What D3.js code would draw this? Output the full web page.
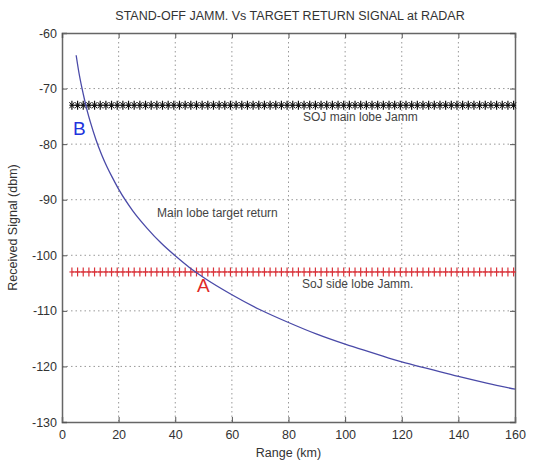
<!DOCTYPE html>
<html><head><meta charset="utf-8">
<script src="https://cdn.jsdelivr.net/npm/d3@7"></script>
<style>body{margin:0;background:#fff}svg{font-family:"Liberation Sans",Arial,sans-serif}</style>
</head><body>
<svg id="c" width="539" height="465"></svg>
<script>
const rangeKm = [4.5,5,6,7,8,9,10,12,14,16,18,20,25,30,35,40,45,50,60,70,80,90,100,110,120,130,140,150,160];
const targetReturn = [-62,-64,-67.2,-69.8,-72.1,-74.2,-76,-79.2,-81.9,-84.2,-86.2,-88.1,-92,-95.1,-97.8,-100.1,-102.2,-104,-107.1,-109.8,-112.1,-114.2,-116,-117.6,-119.2,-120.5,-121.8,-123,-124.1];
const mainLobeJamm = -73;
const sideLobeJamm = -103;
const xTicks = [0,20,40,60,80,100,120,140,160];
const yTicks = [-60,-70,-80,-90,-100,-110,-120,-130];
const jammMarkerKm = d3.range(3.5, 160.1, 2);

const svg = d3.select("#c");
const L=62, R=515, T=33, B=422;
const x = d3.scaleLinear().domain([0,160]).range([L,R]);
const y = d3.scaleLinear().domain([-130,-60]).range([B,T]);
const g = svg.append("g");

// grid
g.selectAll(".gx").data(xTicks.slice(1,-1)).enter().append("line")
  .attr("x1",d=>x(d)).attr("x2",d=>x(d)).attr("y1",T).attr("y2",B)
  .attr("stroke","#999").attr("stroke-dasharray","1.5,3");
g.selectAll(".gy").data(yTicks.slice(1,-1)).enter().append("line")
  .attr("y1",d=>y(d)).attr("y2",d=>y(d)).attr("x1",L).attr("x2",R)
  .attr("stroke","#999").attr("stroke-dasharray","1.5,3");

// axes
const fmt = d => String(d);
g.append("g").attr("transform",`translate(0,${B})`).call(d3.axisBottom(x).tickValues(xTicks).tickSize(-5).tickPadding(8).tickFormat(fmt));
g.append("g").attr("transform",`translate(${L},0)`).call(d3.axisLeft(y).tickValues(yTicks).tickSize(-5).tickPadding(5).tickFormat(fmt));
g.append("g").attr("transform",`translate(0,${T})`).call(d3.axisTop(x).tickValues(xTicks).tickSize(-5).tickFormat(""));
g.append("g").attr("transform",`translate(${R},0)`).call(d3.axisRight(y).tickValues(yTicks).tickSize(-5).tickFormat(""));
svg.selectAll(".domain").attr("stroke","#666").attr("stroke-width",1.5);
svg.selectAll(".tick line").attr("stroke","#555");
svg.selectAll(".tick text").attr("font-size",12.5).attr("fill","#333").attr("font-family","Liberation Sans, Arial, sans-serif");

// jamm lines
function jamm(val, color, star){
  g.append("line").attr("x1",x(jammMarkerKm[0])).attr("x2",x(160)).attr("y1",y(val)).attr("y2",y(val))
    .attr("stroke",color).attr("stroke-width",1);
  const m = g.selectAll(null).data(jammMarkerKm).enter().append("g")
    .attr("transform",d=>`translate(${x(d)},${y(val)})`);
  m.append("line").attr("x1",0).attr("x2",0).attr("y1",-4.5).attr("y2",4.5).attr("stroke",color).attr("stroke-width",1.2);
  m.append("line").attr("x1",-2.5).attr("x2",2.5).attr("y1",0).attr("y2",0).attr("stroke",color).attr("stroke-width",1.2);
  if(star){
    m.append("line").attr("x1",-2.5).attr("x2",2.5).attr("y1",-3).attr("y2",3).attr("stroke",color).attr("stroke-width",1);
    m.append("line").attr("x1",-2.5).attr("x2",2.5).attr("y1",3).attr("y2",-3).attr("stroke",color).attr("stroke-width",1);
  }
}
jamm(mainLobeJamm,"#111",true);
jamm(sideLobeJamm,"#d9333a",false);

// target curve
g.append("path").datum(rangeKm.map((r,i)=>[r,targetReturn[i]]).filter(d=>d[0]>=5))
  .attr("d",d3.line().x(d=>x(d[0])).y(d=>y(d[1])).curve(d3.curveMonotoneX))
  .attr("fill","none").attr("stroke","#4a4aa8").attr("stroke-width",1.3);

// labels
svg.append("text").attr("x",290).attr("y",20).attr("text-anchor","middle").attr("font-size",12.5).attr("fill","#333").text("STAND-OFF JAMM. Vs TARGET RETURN SIGNAL at RADAR");
svg.append("text").attr("x",(L+R)/2).attr("y",457).attr("text-anchor","middle").attr("font-size",12.5).attr("fill","#333").text("Range (km)");
svg.append("text").attr("transform",`translate(17,${(T+B)/2}) rotate(-90)`).attr("text-anchor","middle").attr("font-size",12.5).attr("fill","#333").text("Received Signal (dbm)");
svg.append("text").attr("x",303).attr("y",121).attr("font-size",12).attr("fill","#444").text("SOJ main lobe Jamm");
svg.append("text").attr("x",302).attr("y",288).attr("font-size",12).attr("fill","#444").text("SoJ side lobe Jamm.");
svg.append("text").attr("x",157).attr("y",217).attr("font-size",12).attr("fill","#444").text("Main lobe target return");
svg.append("text").attr("x",73).attr("y",135).attr("font-size",19).attr("fill","#2233dd").text("B");
svg.append("text").attr("x",197).attr("y",292).attr("font-size",19).attr("fill","#e02828").text("A");
</script>
</body></html>
